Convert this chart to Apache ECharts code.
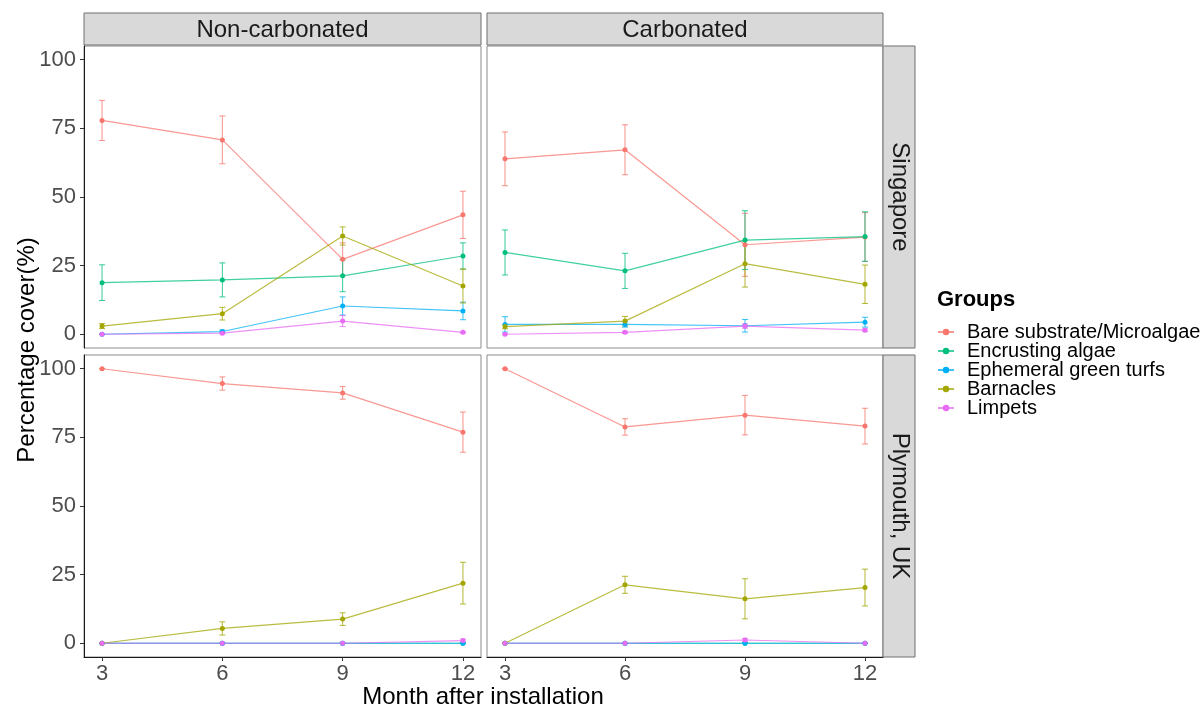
<!DOCTYPE html>
<html><head><meta charset="utf-8">
<script src="https://cdn.jsdelivr.net/npm/echarts@6/dist/echarts.min.js"></script>
<style>html,body{margin:0;padding:0;background:#fff}#c{width:1202px;height:708px}</style>
</head><body><div id="c"></div>
<script>
// ---------- data ----------
const months = [3, 6, 9, 12];
const groups = ['Bare substrate/Microalgae', 'Encrusting algae', 'Ephemeral green turfs', 'Barnacles', 'Limpets'];
const colNames = ['Non-carbonated', 'Carbonated'];
const rowNames = ['Singapore', 'Plymouth, UK'];
const yTicks = [0, 25, 50, 75, 100];

// means per group (order as groups), per panel
const sgNonMean = [
  [77.9, 70.8, 27.3, 43.5],
  [18.8, 19.8, 21.3, 28.5],
  [0, 1.0, 10.3, 8.5],
  [3.0, 7.5, 35.8, 17.6],
  [0, 0.4, 4.8, 0.7]
];
const sgNonErr = [
  [7.3, 8.7, 6.0, 8.6],
  [6.5, 6.2, 5.8, 4.8],
  [0, 0.5, 3.3, 3.2],
  [0.9, 2.3, 3.3, 6.2],
  [0, 0.3, 2.0, 0.3]
];
const sgCarbMean = [
  [63.9, 67.2, 32.6, 35.4],
  [29.8, 23.1, 34.3, 35.6],
  [3.6, 3.6, 3.1, 4.4],
  [2.8, 4.8, 25.7, 18.2],
  [0, 0.7, 3.0, 1.5]
];
const sgCarbErr = [
  [9.8, 9.1, 11.5, 8.9],
  [8.2, 6.4, 10.7, 9.0],
  [2.8, 1.0, 2.3, 1.8],
  [0.8, 1.7, 8.5, 7.0],
  [0, 0.4, 0.8, 0.5]
];
const plNonMean = [
  [100, 94.6, 91.2, 76.9],
  [0, 0, 0, 0],
  [0, 0, 0, 0],
  [0, 5.4, 8.8, 21.9],
  [0, 0, 0, 1.0]
];
const plNonErr = [
  [0, 2.4, 2.3, 7.3],
  [0, 0, 0, 0],
  [0, 0, 0, 0],
  [0, 2.4, 2.3, 7.6],
  [0, 0, 0, 0.5]
];
const plCarbMean = [
  [100, 78.8, 83.1, 79.1],
  [0, 0, 0, 0],
  [0, 0, 0, 0],
  [0, 21.3, 16.2, 20.3],
  [0, 0, 1.2, 0]
];
const plCarbErr = [
  [0, 3.0, 7.2, 6.5],
  [0, 0, 0, 0],
  [0, 0, 0, 0],
  [0, 3.1, 7.3, 6.7],
  [0, 0, 0.6, 0]
];

// ---------- styling/layout ----------
const colors = ['#F8766D', '#00BF7D', '#00B0F6', '#A3A500', '#E76BF3'];
const FONT = '"Liberation Sans", Arial, sans-serif';
const panels = [
  { mean: sgNonMean, err: sgNonErr, left: 84, top: 46, width: 397, height: 302, col: 0, row: 0 },
  { mean: sgCarbMean, err: sgCarbErr, left: 487, top: 46, width: 396, height: 302, col: 1, row: 0 },
  { mean: plNonMean, err: plNonErr, left: 84, top: 355, width: 397, height: 302, col: 0, row: 1 },
  { mean: plCarbMean, err: plCarbErr, left: 487, top: 355, width: 396, height: 302, col: 1, row: 1 }
];

const grid = [], xAxis = [], yAxis = [], series = [];
panels.forEach((p, i) => {
  grid.push({ left: p.left, top: p.top, width: p.width, height: p.height, show: true,
    borderColor: '#8c8c8c', borderWidth: 1, backgroundColor: '#fff' });
  const outerX = p.row === 1, outerY = p.col === 0;
  xAxis.push({ type: 'value', gridIndex: i, min: 2.55, max: 12.45,
    axisLine: { show: outerX, onZero: false, lineStyle: { color: '#1a1a1a', width: 1 } },
    axisTick: { show: outerX, length: 4, lineStyle: { color: '#333' }, customValues: months },
    axisLabel: { show: outerX, customValues: months, fontSize: 22, color: '#4D4D4D', fontFamily: FONT, margin: 6 },
    splitLine: { show: false } });
  yAxis.push({ type: 'value', gridIndex: i, min: -5, max: 105,
    axisLine: { show: outerY, onZero: false, lineStyle: { color: '#1a1a1a', width: 1 } },
    axisTick: { show: outerY, length: 4, lineStyle: { color: '#333' }, customValues: yTicks },
    axisLabel: { show: outerY, customValues: yTicks, fontSize: 22, color: '#4D4D4D', fontFamily: FONT, margin: 8,
      padding: [3, 0, 0, 0] },
    splitLine: { show: false } });
  groups.forEach((g, k) => {
    series.push({
      type: 'custom', name: g + ' (SE)', xAxisIndex: i, yAxisIndex: i, silent: true,
      data: months.map((m, j) => [m, p.mean[k][j], p.err[k][j]]),
      renderItem: function (params, api) {
        const x = api.value(0), m = api.value(1), e = api.value(2);
        const t = api.coord([x, m + e]), b = api.coord([x, m - e]);
        const st = { stroke: colors[k], lineWidth: 1, opacity: 0.8 };
        return { type: 'group', children: [
          { type: 'line', shape: { x1: t[0], y1: t[1], x2: b[0], y2: b[1] }, style: st },
          { type: 'line', shape: { x1: t[0] - 3, y1: t[1], x2: t[0] + 3, y2: t[1] }, style: st },
          { type: 'line', shape: { x1: b[0] - 3, y1: b[1], x2: b[0] + 3, y2: b[1] }, style: st }
        ] };
      },
      z: 2
    });
  });
  groups.forEach((g, k) => {
    series.push({
      type: 'line', name: g, xAxisIndex: i, yAxisIndex: i,
      data: months.map((m, j) => [m, p.mean[k][j]]),
      symbol: 'circle', symbolSize: 5, showSymbol: true,
      itemStyle: { color: colors[k] },
      lineStyle: { color: colors[k], width: 1.2, opacity: 0.75 },
      emphasis: { disabled: true }, animation: false, z: 3
    });
  });
});

// strips
const graphic = [];
const stripStyle = { fill: '#D9D9D9', stroke: '#6e6e6e', lineWidth: 1 };
[[84, 397], [487, 396]].forEach((c, i) => {
  graphic.push({ type: 'rect', shape: { x: c[0], y: 13, width: c[1], height: 32 }, style: stripStyle, silent: true });
  graphic.push({ type: 'text', x: c[0] + c[1] / 2, y: 30, silent: true,
    style: { text: colNames[i], font: '24px ' + FONT, fill: '#1A1A1A', align: 'center', verticalAlign: 'middle' } });
});
[[46, 302], [355, 302]].forEach((r, i) => {
  graphic.push({ type: 'rect', shape: { x: 883, y: r[0], width: 32, height: r[1] }, style: stripStyle, silent: true });
  graphic.push({ type: 'text', x: 900, y: r[0] + r[1] / 2, rotation: -Math.PI / 2, silent: true,
    style: { text: rowNames[i], font: '24px ' + FONT, fill: '#1A1A1A', align: 'center', verticalAlign: 'middle' } });
});
graphic.push({ type: 'text', x: 483, y: 697, silent: true,
  style: { text: 'Month after installation', font: '24px ' + FONT, fill: '#000', align: 'center', verticalAlign: 'middle' } });
graphic.push({ type: 'text', x: 27, y: 350, rotation: Math.PI / 2, silent: true,
  style: { text: 'Percentage cover(%)', font: '24px ' + FONT, fill: '#000', align: 'center', verticalAlign: 'middle' } });
graphic.push({ type: 'text', x: 937, y: 300, silent: true,
  style: { text: 'Groups', font: 'bold 22px ' + FONT, fill: '#000', align: 'left', verticalAlign: 'middle' } });

const chart = echarts.init(document.getElementById('c'), null, { renderer: 'canvas' });
chart.setOption({
  backgroundColor: '#fff',
  animation: false,
  grid, xAxis, yAxis, series, graphic,
  legend: {
    data: groups, orient: 'vertical', left: 932, top: 317, itemWidth: 16, itemHeight: 8, itemGap: -1,
    selectedMode: false,
    textStyle: { fontSize: 20, color: '#000', fontFamily: FONT, lineHeight: 18, padding: [0, 0, 0, 8] }
  }
});
</script></body></html>
